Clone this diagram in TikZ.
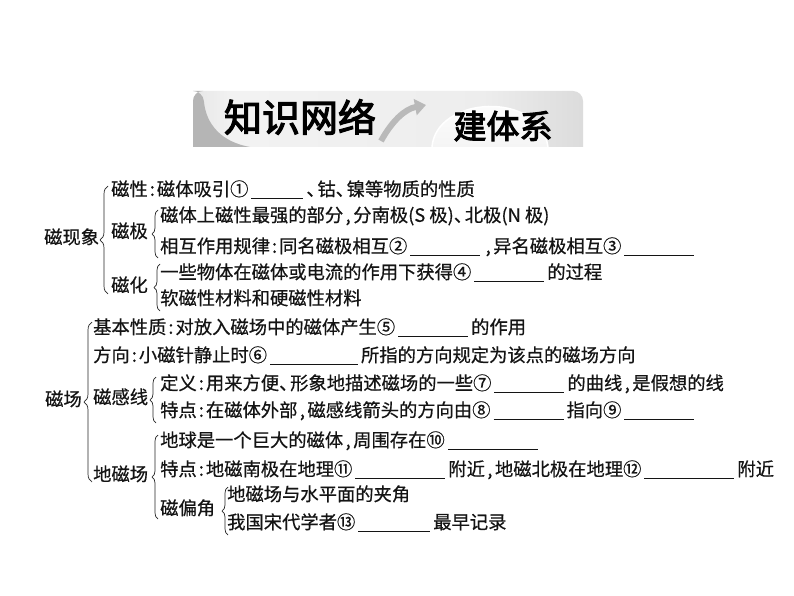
\documentclass[tikz,border=0pt]{standalone}
\usepackage{fontspec}
\newfontfamily\cjk[FakeBold=0.6]{Noto Sans CJK SC}
\newfontfamily\cjkhead[FakeBold=3]{Noto Sans CJK SC}
\usetikzlibrary{decorations.pathreplacing,arrows.meta}
\newcommand\co{\makebox[0.5em][c]{:}}
\newcommand\cm{\makebox[0.55em][c]{,}}
\newcommand\dun{\makebox[0.6em][l]{、}}
\newcommand\blank[1]{\hspace{3pt}\rule[-3pt]{#1pt}{0.8pt}\hspace{3pt}}
\pgfdeclarehorizontalshading{banner}{100bp}{color(0bp)=(gray!62); color(14bp)=(gray!40); color(30bp)=(gray!10); color(62bp)=(gray!14); color(82bp)=(gray!35); color(88bp)=(gray!50); color(100bp)=(gray!58)}
\begin{document}
\begin{tikzpicture}[x=1pt,y=-1pt,
  txt/.style={font=\cjk\fontsize{18.3pt}{20pt}\selectfont, inner sep=0pt, anchor=west, text height=0.96em, text depth=0.2em, text=black!92},
  brc/.style={decorate, decoration={brace, amplitude=#1}, line width=0.7pt, black!85},
  brc/.default=6pt]
\useasboundingbox (0,0) rectangle (794,596);
\fill[white] (0,0) rectangle (794,596);

% ---------- header banner ----------
\shade[shading=banner] (193,147) [rounded corners=10pt] -- (193,91) -- (583,91) [sharp corners] -- (583,147) -- cycle;
\fill[gray!58] (193,147) [rounded corners=10pt] -- (193,91) -- (203,91) [sharp corners] .. controls (206,125) and (222,142) .. (250,147) -- cycle;
\shade[top color=white, bottom color=gray!8] (432,147) .. controls (436,96) and (540,90) .. (548,147) -- cycle;
\draw[white, line width=1.5pt] (432,147) .. controls (436,96) and (540,90) .. (548,147);
\draw[line width=6pt, gray!55, -{Triangle[width=16pt,length=11pt]}] (381,141) .. controls (392,121) and (405,109) .. (426,105);
\node[font=\cjkhead\fontsize{38pt}{40pt}\selectfont, inner sep=0pt] (h1) at (300,117) {知识网络};
\node[font=\cjkhead\fontsize{33pt}{35pt}\selectfont, inner sep=0pt] (h2) at (503,126) {建体系};

% ---------- 磁现象 ----------
\node[txt] (cxx) at (44,240) {磁现象};
\draw[brc=8pt] (108,294) -- (108,186);
\node[txt] (r1) at (111,192) {磁性\co 磁体吸引①\blank{52}\dun 钴\dun 镍等物质的性质};
\node[txt] (cj) at (111,234) {磁极};
\draw[brc] (158,258) -- (158,210);
\node[txt] (r2) at (160,218) {磁体上磁性最强的部分\cm 分南极(S 极)\dun 北极(N 极)};
\node[txt] (r3) at (160,249) {相互作用规律\co 同名磁极相互②\blank{70}\cm 异名磁极相互③\blank{70}};
\node[txt] (ch) at (111,288) {磁化};
\draw[brc] (160,311) -- (160,264);
\node[txt] (r4) at (160,275) {一些物体在磁体或电流的作用下获得④\blank{70}的过程};
\node[txt] (r5) at (160,301) {软磁性材料和硬磁性材料};

% ---------- 磁场 ----------
\node[txt] (cc) at (45,402) {磁场};
\draw[brc=8pt] (92,482) -- (92,322);
\node[txt] (r6) at (93,330) {基本性质\co 对放入磁场中的磁体产生⑤\blank{70}的作用};
\node[txt] (r7) at (93,358) {方向\co 小磁针静止时⑥\blank{88}所指的方向规定为该点的磁场方向};
\node[txt] (cgx) at (93,400) {磁感线};
\draw[brc] (156,423) -- (156,377);
\node[txt] (r8) at (160,386) {定义\co 用来方便\dun 形象地描述磁场的一些⑦\blank{70}的曲线\cm 是假想的线};
\node[txt] (r9) at (160,413) {特点\co 在磁体外部\cm 磁感线箭头的方向由⑧\blank{70}指向⑨\blank{70}};
\node[txt] (dcc) at (93,477) {地磁场};
\draw[brc] (158,519) -- (158,435);
\node[txt] (r10) at (160,443) {地球是一个巨大的磁体\cm 周围存在⑩\blank{90}};
\node[txt] (r11) at (160,472) {特点\co 地磁南极在地理⑪\blank{90}附近\cm 地磁北极在地理⑫\blank{90}附近};
\node[txt] (cpj) at (160,511) {磁偏角};
\draw[brc] (228,535) -- (228,487);
\node[txt] (r12) at (227,497) {地磁场与水平面的夹角};
\node[txt] (r13) at (227,525) {我国宋代学者⑬\blank{72}最早记录};
\end{tikzpicture}
\end{document}
